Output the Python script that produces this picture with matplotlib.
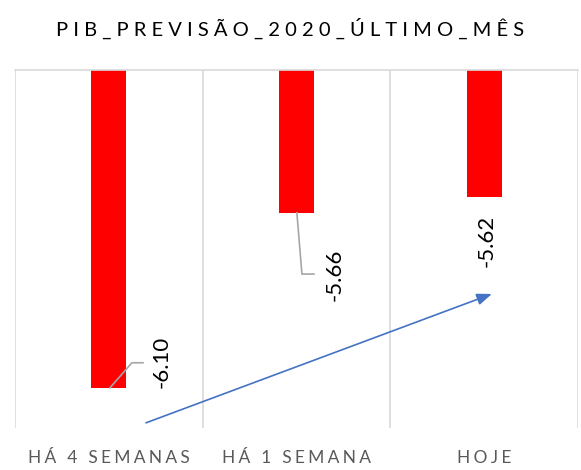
import numpy as np
import matplotlib
matplotlib.use('Agg')
import matplotlib.pyplot as plt

categories = ['HÁ 4 SEMANAS', 'HÁ 1 SEMANA', 'HOJE']
values = [-6.10, -5.66, -5.62]
title = 'PIB_PREVISÃO_2020_ÚLTIMO_MÊS'

y_top, y_bottom = -5.3, -6.2

plt.rcParams['font.family'] = ['Lato', 'DejaVu Sans']


def spaced(s, sep='\u2009'):
    return sep.join(s)


fig = plt.figure(figsize=(5.81, 4.70), dpi=100)
ax = fig.add_axes([15 / 581, 42 / 470, 563 / 581, 358 / 470])

x = np.arange(len(categories))
heights = [v - y_top for v in values]
ax.bar(x, heights, bottom=y_top, width=0.186, color='#FF0000', zorder=2)

ax.set_xlim(-0.5, len(categories) - 0.5)
ax.set_ylim(y_bottom, y_top)

# category separators
ax.set_xticks(np.arange(-0.5, len(categories)), minor=True)
ax.grid(which='minor', axis='x', color='#D9D9D9', linewidth=1.2, zorder=0)
ax.set_xticks(x)
ax.set_xticklabels([spaced(c, '\u2009\u200a') for c in categories],
                   fontsize=12.5, color='#595959')
ax.tick_params(axis='x', which='both', length=0, pad=16)
ax.set_yticks([])
for side in ['left', 'right', 'bottom']:
    ax.spines[side].set_visible(False)
ax.spines['top'].set_color('#D9D9D9')
ax.spines['top'].set_linewidth(1.2)

# data labels (rotated) with leader lines
label_pos = [(0.283, -6.034), (1.205, -5.815), (2.015, -5.73)]
for v, (lx, ly) in zip(values, label_pos):
    ax.text(lx, ly, f'{v:.2f}', rotation=90, ha='center', va='center',
            fontsize=16, color='#000000')

leaders = [
    ([0.006, 0.123, 0.182], [-6.099, -6.036, -6.036]),
    ([1.002, 1.029, 1.093], [-5.659, -5.813, -5.813]),
]
for lx, ly in leaders:
    ax.plot(lx, ly, color='#A6A6A6', linewidth=1.2, zorder=3)

# trend arrow
ax.annotate('', xy=(2.041, -5.863), xytext=(0.198, -6.187),
            arrowprops=dict(arrowstyle='-|>,head_length=0.9,head_width=0.35',
                            color='#4472C4', linewidth=1.2, shrinkA=0, shrinkB=0),
            annotation_clip=False)

fig.text(0.5, 1 - 28 / 470, spaced(title, ' '), ha='center', va='center',
         fontsize=14.5, color='#000000')

fig.savefig('out.png', dpi=100)
